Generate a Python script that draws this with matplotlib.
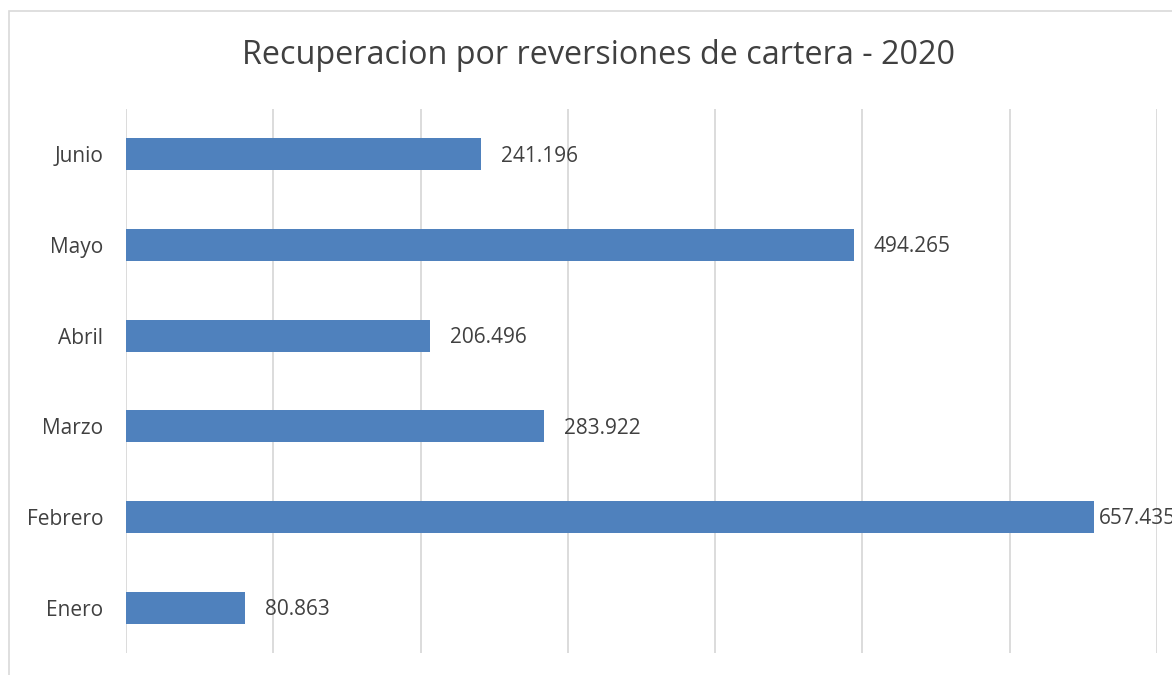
import matplotlib.pyplot as plt
from matplotlib.patches import Rectangle

# Datos
meses = ["Enero", "Febrero", "Marzo", "Abril", "Mayo", "Junio"]
valores = [80.863, 657.435, 283.922, 206.496, 494.265, 241.196]
etiquetas = ["80.863", "657.435", "283.922", "206.496", "494.265", "241.196"]
titulo = "Recuperacion por reversiones de cartera - 2020"

plt.rcParams['font.family'] = ['Open Sans', 'DejaVu Sans']
gris_texto = '#404040'

fig = plt.figure(figsize=(11.72, 6.75), dpi=100)
W, H = 1172, 675

# marco del grafico (recortado a la derecha y abajo)
fig.patches.append(Rectangle((8.5 / W, -0.2), 1.2, 1.2 - 10.5 / H,
                             transform=fig.transFigure, fill=False,
                             edgecolor='#d9d9d9', linewidth=1.2))

ax = fig.add_axes([126 / W, 1 - 653 / H, (1157 - 126) / W, (653 - 109) / H])
pos = range(len(meses))
ax.barh(pos, valores, height=0.355, color='#4f81bd', zorder=3)
ax.set_xlim(0, 700)
ax.set_ylim(-0.5, len(meses) - 0.5)
ax.set_xticks(range(0, 701, 100))
ax.set_xticklabels([])
ax.set_yticks(list(pos))
ax.set_yticklabels(meses, fontsize=15, color=gris_texto)
ax.tick_params(axis='both', length=0, pad=16.5)
ax.grid(axis='x', color='#d9d9d9', linewidth=1.3, zorder=0)
for s in ax.spines.values():
    s.set_visible(False)

vmax = max(valores)
for i, (v, t) in enumerate(zip(valores, etiquetas)):
    off = 5 if v == vmax else 20
    ax.annotate(t, (v, i), xytext=(off, -2), textcoords='offset pixels',
                va='center', ha='left', fontsize=15, color=gris_texto,
                annotation_clip=False)

fig.text(598 / W, 1 - 56 / H, titulo, ha='center', va='center',
         fontsize=23.3, color=gris_texto)

fig.savefig('out.png', dpi=100)
